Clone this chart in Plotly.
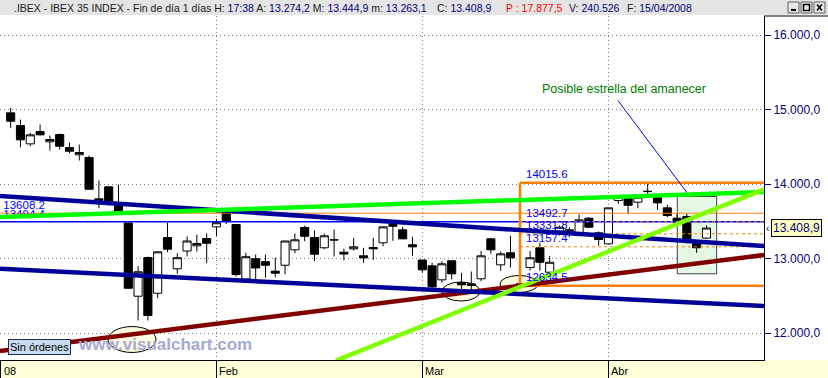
import plotly.graph_objects as go

# ---------------- data ----------------
day_index = list(range(72))
open_ = [14955, 14785, 14539, 14704, 14566, 14664, 14490, 14392, 14355, 13801,
         13962, 13721, 13476, 12494, 13013, 12534, 13282, 12862, 13101, 13170,
         13268, 13425, 13604, 13456, 12725, 12997, 12957, 12830, 12910, 13117,
         13416, 13282, 13144, 13248, 13085, 13130, 13036, 13148, 13211, 13456,
         13385, 13184, 12980, 12902, 12714, 12970, 12674, 12660, 12728, 13264,
         12915, 13077, 12660, 12880, 13144, 12816, 13366, 13366, 13345, 13541,
         13345, 13197, 13778, 13823, 13756, 13903, 13845, 13680, 13541, 13564,
         13205, 13274.2]
high = [15022, 14865, 14687, 14798, 14651, 14678, 14557, 14530, 14382, 14047,
        13966, 13993, 13479, 12897, 13027, 13098, 13479, 13071, 13295, 13320,
        13336, 13533, 13644, 13456, 13078, 13054, 13054, 13013, 13238, 13336,
        13443, 13376, 13336, 13389, 13134, 13278, 13144, 13278, 13429, 13497,
        13425, 13291, 12983, 12942, 12964, 12973, 12808, 12826, 13103, 13278,
        13094, 13305, 12870, 13100, 13211, 13036, 13443, 13420, 13590, 13554,
        13362, 13680, 13832, 13832, 13855, 14015.6, 13855, 13721, 13600, 13600,
        13238, 13444.9]
low = [14754, 14494, 14507, 14650, 14449, 14463, 14413, 14315, 13926, 13675,
       13711, 13590, 12597, 12168, 12168, 12467, 13085, 12795, 13027, 13094,
       12937, 13302, 13463, 12758, 12695, 12725, 12745, 12749, 12789, 13071,
       13232, 12964, 13125, 13027, 12977, 13107, 12942, 12983, 13165, 13238,
       13260, 13036, 12812, 12567, 12674, 12722, 12571, 12571, 12695, 13063,
       12835, 12879, 12634.5, 12840, 12839, 12812, 13309, 13286, 13345, 13407,
       13174, 13197, 13734, 13600, 13675, 13859, 13654, 13554, 13487, 13205,
       13076, 13263.1]
close = [14843, 14593, 14660, 14660, 14597, 14507, 14440, 14423, 13930, 13782,
         13756, 13631, 12601, 12822, 12235, 13090, 13125, 13011, 13235, 13201,
         13205, 13480, 13501, 12785, 13024, 12873, 12910, 12803, 13235, 13251,
         13299, 13058, 13305, 13252, 13060, 13157, 13009, 13130, 13425, 13433,
         13264, 13157, 12848, 12620, 12929, 12795, 12647, 12638, 13036, 13117,
         13063, 13009, 12645, 13010, 12950, 12950, 13420, 13385, 13519, 13420,
         13255, 13680, 13823, 13715, 13823, 13900, 13747, 13577, 13487, 13255,
         13144, 13408.9]

month_ticks = [-1, 21, 42, 61]
month_labels = ["08", "Feb", "Mar", "Abr"]
price_ticks = [12000, 13000, 14000, 15000, 16000]
price_labels = ["12.000,0", "13.000,0", "14.000,0", "15.000,0", "16.000,0"]

x_left, x_right = -1.09, 76.87
y_bottom, y_top = 11638, 16255

# trend lines (day index, price)
upper_channel_y = [13839, 13168]
lower_channel_y = [12862, 12363]
green_trend_y = [13557, 13892]
lime_trend_x = [33.19, 76.87]
lime_trend_y = [11631, 13930]
maroon_trend_y = [11759, 13047]

level_orange = 13608.2
level_blue = 13494.4
fib_start = 51.97
fib_high, fib_low = 14015.6, 12634.5
fib_mid = [13492.7, 13331.8, 13157.4]
fib_labels = ["14015.6", "13492.7", "13331.8", "13157.4", "12634.5"]

last_close = 13408.9

# header fields: (text, left pixel)
header_parts = [
    (".IBEX - IBEX 35 INDEX - Fin de día 1 días H: <span style='color:#000080'>17:38</span>"
     " A: <span style='color:#000080'>13.274,2</span> M: <span style='color:#000080'>13.444,9</span>"
     " m: <span style='color:#000080'>13.263,1</span>", 12),
    ("C: <span style='color:#000080'>13.408,9</span>", 435),
    ("<span style='color:#ff0000'>P : 17.877,5</span>", 504),
    ("V: <span style='color:#000080'>240.526</span>", 567),
    ("F: <span style='color:#000080'>15/04/2008</span>", 625),
]

# ---------------- helpers for decoration (pixel -> paper) ----------------
PW, PH, T = 764.0, 344.0, 16
def px(v):
    return v / PW
def py(v):
    return (T + PH - v) / PH

FONT = "Liberation Sans, Arial, sans-serif"
NAVY = "#000080"
ORANGE = "#ff8000"

fig = go.Figure()

xr = [x_left, x_right]
# horizontal reference lines
fig.add_trace(go.Scatter(x=xr, y=[level_orange] * 2, mode="lines",
                         line=dict(color=ORANGE, width=1)))
fig.add_trace(go.Scatter(x=xr, y=[level_blue] * 2, mode="lines",
                         line=dict(color="#0000ff", width=1.4)))
for lv in fib_mid:
    fig.add_trace(go.Scatter(x=[fib_start, x_right], y=[lv] * 2, mode="lines",
                             line=dict(color=ORANGE, width=1, dash="3px,3px")))
for lv in (fib_high, fib_low):
    fig.add_trace(go.Scatter(x=[fib_start, x_right], y=[lv] * 2, mode="lines",
                             line=dict(color=ORANGE, width=2.5)))
fig.add_trace(go.Scatter(x=[fib_start, fib_start], y=[fib_low, fib_high], mode="lines",
                         line=dict(color=ORANGE, width=2.5)))
# level labels on the left (drawn under the trend lines, as in the original)
fig.add_trace(go.Scatter(x=[-0.75, -0.75], y=[level_orange + 15, level_blue + 10], mode="text",
                         text=[f"{level_orange:.1f}", f"{level_blue:.1f}"], textposition="top right",
                         textfont=dict(family=FONT, size=11.5, color="#0000ff"), hoverinfo="skip"))

# candles
fig.add_trace(go.Candlestick(
    x=day_index, open=open_, high=high, low=low, close=close,
    increasing=dict(line=dict(color="black", width=1), fillcolor="white"),
    decreasing=dict(line=dict(color="black", width=1), fillcolor="black"),
    whiskerwidth=0, hoverinfo="skip"))

# trend lines
fig.add_trace(go.Scatter(x=xr, y=maroon_trend_y, mode="lines",
                         line=dict(color="#800000", width=4.5)))
fig.add_trace(go.Scatter(x=xr, y=upper_channel_y, mode="lines",
                         line=dict(color="#000099", width=4.5)))
fig.add_trace(go.Scatter(x=xr, y=lower_channel_y, mode="lines",
                         line=dict(color="#000099", width=4.5)))
fig.add_trace(go.Scatter(x=xr, y=green_trend_y, mode="lines",
                         line=dict(color="#00ff00", width=4.5)))
fig.add_trace(go.Scatter(x=lime_trend_x, y=lime_trend_y, mode="lines",
                         line=dict(color="#80ff00", width=4.5)))
# pointer line of the note
fig.add_trace(go.Scatter(x=[61.97, 68.98], y=[15120, 13890], mode="lines",
                         line=dict(color="#0000ff", width=1)))

shapes = []
# highlighted box and ellipses (data coords)
shapes.append(dict(type="rect", xref="x", yref="y", x0=68.02, x1=72.04, y0=12795, y1=13832,
                   fillcolor="#e4f8e4", line=dict(color="#404040", width=1), layer="between"))
for (x0, x1, y0, y1) in [(9.93, 14.83, 11739, 12087), (44.0, 47.9, 12430, 12685),
                         (49.93, 53.8, 12544, 12772)]:
    shapes.append(dict(type="circle", xref="x", yref="y", x0=x0, x1=x1, y0=y0, y1=y1,
                       fillcolor="#fffbe0", line=dict(color="black", width=1), layer="between"))
# header band
shapes.append(dict(type="rect", xref="paper", yref="paper", x0=px(0), x1=px(828), y0=py(15), y1=py(0),
                   fillcolor="#e4e4e4", line=dict(width=0), layer="below"))
# bottom strip
shapes.append(dict(type="rect", xref="paper", yref="paper", x0=px(0), x1=px(828), y0=py(378), y1=py(360),
                   fillcolor="#ffffd8", line=dict(width=0), layer="below"))
# right panel top border
shapes.append(dict(type="line", xref="paper", yref="paper", x0=px(764), x1=px(828), y0=py(16), y1=py(16),
                   line=dict(color="black", width=1)))
# window buttons
for bx in (788, 801, 814):
    shapes.append(dict(type="rect", xref="paper", yref="paper", x0=px(bx), x1=px(bx + 11),
                       y0=py(13), y1=py(2), fillcolor="#e8e8e8", line=dict(color="#606060", width=1)))
shapes.append(dict(type="line", xref="paper", yref="paper", x0=px(791), x1=px(796), y0=py(10), y1=py(10),
                   line=dict(color="black", width=2)))
shapes.append(dict(type="rect", xref="paper", yref="paper", x0=px(803.5), x1=px(809.5), y0=py(10.5), y1=py(4.5),
                   line=dict(color="black", width=1.5)))
shapes.append(dict(type="line", xref="paper", yref="paper", x0=px(817), x1=px(822), y0=py(10.5), y1=py(4.5),
                   line=dict(color="black", width=1.5)))
shapes.append(dict(type="line", xref="paper", yref="paper", x0=px(817), x1=px(822), y0=py(4.5), y1=py(10.5),
                   line=dict(color="black", width=1.5)))

ann = []
for txt, left in header_parts:
    ann.append(dict(text=txt, xref="paper", yref="paper", x=px(left), y=py(8), xanchor="left",
                    yanchor="middle", showarrow=False, font=dict(family=FONT, size=10.5, color="#202020")))
for t, lab in zip(month_ticks, month_labels):
    ann.append(dict(text=lab, xref="x", yref="paper", x=t, y=py(371), xanchor="left", yanchor="middle",
                    xshift=1, showarrow=False, font=dict(family=FONT, size=11, color="black")))
ann.append(dict(text="Posible estrella del amanecer", xref="x", yref="y", x=53.97, y=15281,
                xanchor="left", yanchor="middle", showarrow=False,
                font=dict(family=FONT, size=12.5, color="#008000")))
fib_values = [fib_high] + fib_mid + [fib_low]
for lv, lab in zip(fib_values, fib_labels):
    ann.append(dict(text=lab, xref="x", yref="y", x=52.45, y=lv, xanchor="left", yanchor="bottom",
                    borderpad=0, yshift=2, showarrow=False,
                    font=dict(family=FONT, size=11.5, color="#0000ff")))
ann.append(dict(text="13.408,9", xref="paper", yref="y", x=px(771), y=last_close, xanchor="left",
                yanchor="middle", showarrow=False, bgcolor="#ffffc0", bordercolor="black",
                borderwidth=1, borderpad=1, font=dict(family=FONT, size=12, color=NAVY)))
ann.append(dict(text="‹", xref="paper", yref="y", x=px(764.5), y=last_close, xanchor="left",
                yanchor="middle", showarrow=False, font=dict(family=FONT, size=10, color=NAVY)))
ann.append(dict(text="<b>www.visualchart.com</b>", xref="paper", yref="paper", x=px(76), y=py(344),
                xanchor="left", yanchor="middle", showarrow=False,
                font=dict(family=FONT, size=17, color="#a4a8d6")))
ann.append(dict(text="Sin órdenes", xref="paper", yref="paper", x=px(8), y=py(347), xanchor="left",
                yanchor="middle", showarrow=False, bgcolor="#c8dcf0", bordercolor="#1c2c5c",
                borderwidth=1, borderpad=1, font=dict(family=FONT, size=11, color="black")))

fig.update_layout(
    width=828, height=378, margin=dict(l=0, r=64, t=16, b=18),
    paper_bgcolor="white", plot_bgcolor="white", showlegend=False,
    boxgap=0.1, boxgroupgap=0.08,
    shapes=shapes, annotations=ann,
    xaxis=dict(range=xr, rangeslider=dict(visible=False), tickvals=month_ticks,
               showticklabels=False, ticks="outside", ticklen=18, tickcolor="black", tickwidth=1,
               showgrid=True, gridcolor="#808080", griddash="1px,3px", gridwidth=1,
               showline=True, linecolor="black", linewidth=1, zeroline=False),
    yaxis=dict(range=[y_bottom, y_top], side="right", tickvals=price_ticks, ticktext=price_labels,
               ticks="outside", ticklen=6, tickcolor=NAVY,
               tickfont=dict(family=FONT, size=12, color=NAVY),
               showgrid=True, gridcolor="#808080", griddash="1px,3px", gridwidth=1,
               showline=True, linecolor="black", linewidth=1, zeroline=False),
)

fig.write_html("out.html")
